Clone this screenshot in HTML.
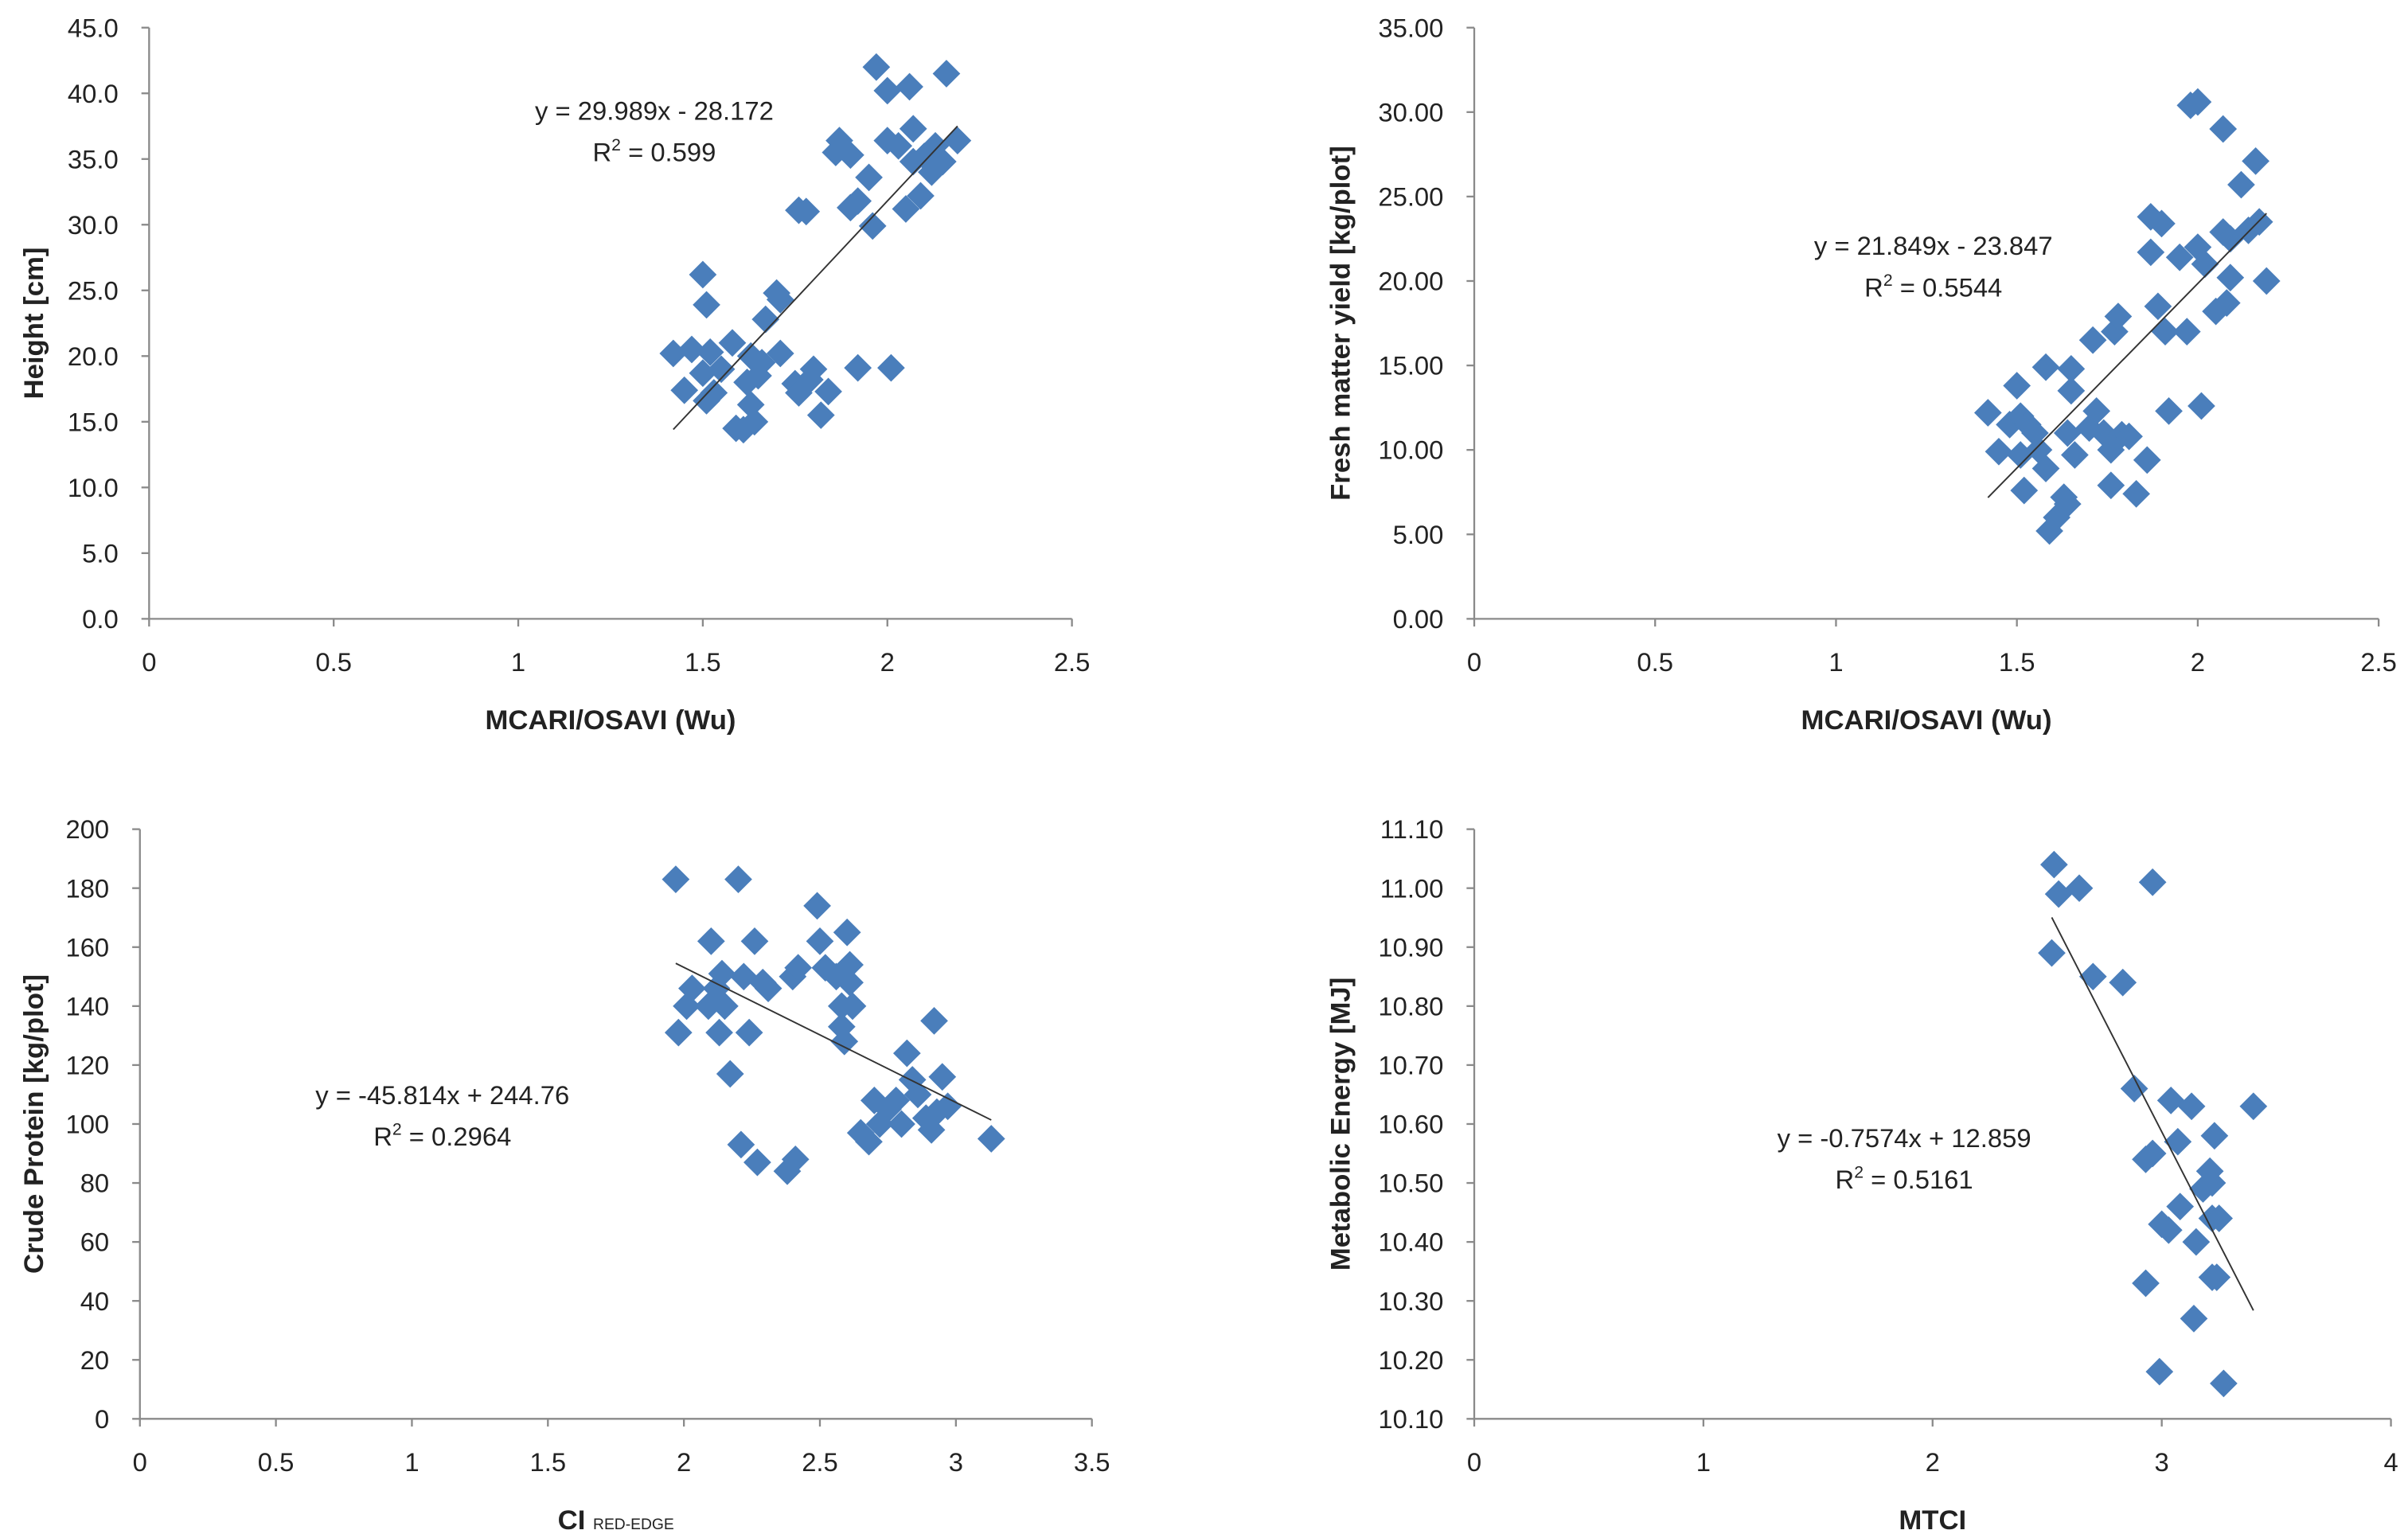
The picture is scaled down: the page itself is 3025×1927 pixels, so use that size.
<!DOCTYPE html>
<html><head><meta charset="utf-8"><style>
html,body{margin:0;padding:0;background:#fff;}
svg{display:block;}
text{font-family:"Liberation Sans",sans-serif;fill:#222;}
</style></head><body>
<svg id="c" width="3025" height="1927" viewBox="0 0 1568 999" xmlns="http://www.w3.org/2000/svg"></svg>
<script>
// Panel 1: Height vs MCARI/OSAVI
const p1X = [1.42,1.45,1.47,1.50,1.51,1.50,1.52,1.53,1.51,1.55,1.58,1.59,1.61,1.62,1.63,1.63,1.64,1.65,1.66,1.67,1.70,1.71,1.71,1.75,1.76,1.76,1.78,1.79,1.80,1.82,1.84,1.86,1.87,1.90,1.90,1.92,1.92,1.95,1.96,1.97,2.00,2.00,2.01,2.03,2.05,2.06,2.07,2.07,2.09,2.10,2.12,2.13,2.15,2.16,2.19];
const p1Y = [20.2,17.4,20.5,26.2,23.9,18.7,20.3,17.2,16.6,19.0,21.0,14.5,14.4,18.0,20.0,16.3,15.0,18.5,19.5,22.8,24.8,24.3,20.2,17.9,17.2,31.1,31.0,18.2,19.0,15.5,17.3,35.5,36.4,35.3,31.3,19.1,31.8,33.6,29.9,42.0,36.4,40.2,19.1,36.0,31.2,40.5,37.3,34.8,32.2,35.2,34.0,36.0,34.8,41.5,36.4];
const p1Ticks = ["0.0","5.0","10.0","15.0","20.0","25.0","30.0","35.0","40.0","45.0"];
const p1XTicks = ["0","0.5","1","1.5","2","2.5"];
// Panel 2: Fresh matter yield vs MCARI/OSAVI
const p2X = [1.42,1.45,1.48,1.50,1.51,1.51,1.52,1.53,1.55,1.56,1.58,1.58,1.59,1.61,1.63,1.64,1.64,1.65,1.65,1.66,1.70,1.71,1.72,1.74,1.76,1.76,1.77,1.78,1.79,1.81,1.83,1.86,1.87,1.87,1.89,1.90,1.91,1.92,1.95,1.97,1.98,2.00,2.00,2.01,2.02,2.05,2.07,2.07,2.08,2.09,2.09,2.12,2.14,2.16,2.17,2.19];
const p2Y = [12.2,9.9,11.5,13.8,12.0,9.7,7.6,11.5,11.0,10.0,14.9,8.9,5.2,6.0,7.2,6.8,11.0,14.8,13.5,9.7,11.3,16.5,12.3,11.0,10.0,7.9,17.0,17.9,10.9,10.8,7.4,9.4,21.7,23.8,18.5,23.4,17.0,12.3,21.4,17.0,30.4,30.6,22.0,12.6,21.0,18.2,22.9,29.0,18.7,20.2,22.5,25.7,23.0,27.1,23.5,20.0];
const p2Ticks = ["0.00","5.00","10.00","15.00","20.00","25.00","30.00","35.00"];
const p2XTicks = ["0","0.5","1","1.5","2","2.5"];
// Panel 3: Crude protein vs CI red-edge
const p3X = [1.97,1.98,2.01,2.03,2.09,2.10,2.12,2.13,2.14,2.15,2.17,2.20,2.21,2.22,2.24,2.26,2.27,2.29,2.31,2.38,2.40,2.41,2.42,2.49,2.50,2.52,2.56,2.58,2.58,2.59,2.60,2.61,2.61,2.62,2.65,2.68,2.70,2.72,2.75,2.78,2.80,2.82,2.84,2.86,2.89,2.91,2.92,2.93,2.95,2.97,3.13];
const p3Y = [183,131,140,146,140,162,146,131,151,140,117,183,93,150,131,162,87,148,146,84,150,88,153,174,162,153,150,140,133,128,165,154,148,140,97,94,108,100,105,108,100,124,115,110,102,98,135,104,116,106,95];
const p3Ticks = ["0","20","40","60","80","100","120","140","160","180","200"];
const p3XTicks = ["0","0.5","1","1.5","2","2.5","3","3.5"];
// Panel 4: Metabolic energy vs MTCI
const p4X = [2.53,2.55,2.52,2.64,2.70,2.83,2.96,2.88,2.93,2.96,2.93,2.99,3.00,3.03,3.04,3.07,3.08,3.13,3.15,3.14,3.18,3.21,3.22,3.22,3.23,3.25,3.22,3.24,3.27,3.40];
const p4Y = [11.04,10.99,10.89,11.00,10.85,10.84,11.01,10.66,10.54,10.55,10.33,10.18,10.43,10.42,10.64,10.57,10.46,10.63,10.40,10.27,10.49,10.52,10.50,10.44,10.58,10.44,10.34,10.34,10.16,10.63];
const p4Ticks = ["10.10","10.20","10.30","10.40","10.50","10.60","10.70","10.80","10.90","11.00","11.10"];
const p4XTicks = ["0","1","2","3","4"];
const slopes = [29.989, 21.849, -45.814, -0.7574];
const intercepts = [-28.172, -23.847, 244.76, 12.859];

const NS="http://www.w3.org/2000/svg";
const svg=document.getElementById('c');
function mk(tag,attrs,parent){const e=document.createElementNS(NS,tag);for(const k in attrs)e.setAttribute(k,attrs[k]);(parent||svg).appendChild(e);return e;}

const panels=[
 {name:'height',xs:p1X,ys:p1Y,yt:p1Ticks,xt:p1XTicks,px0:97,px1:698,py0:403,py1:18,eq:["y = 29.989x - 28.172","0.599"],eqx:426,eqy:72,xtitle:"MCARI/OSAVI (Wu)",ytitle:"Height [cm]",ytx:22},
 {name:'fresh-matter',xs:p2X,ys:p2Y,yt:p2Ticks,xt:p2XTicks,px0:960,px1:1549,py0:403,py1:18,eq:["y = 21.849x - 23.847","0.5544"],eqx:1259,eqy:160,xtitle:"MCARI/OSAVI (Wu)",ytitle:"Fresh matter yield [kg/plot]",ytx:873},
 {name:'crude-protein',xs:p3X,ys:p3Y,yt:p3Ticks,xt:p3XTicks,px0:91,px1:711,py0:924,py1:540,eq:["y = -45.814x + 244.76","0.2964"],eqx:288,eqy:713,xtitle:"CI",ytitle:"Crude Protein [kg/plot]",ytx:22},
 {name:'metabolic-energy',xs:p4X,ys:p4Y,yt:p4Ticks,xt:p4XTicks,px0:960,px1:1557,py0:924,py1:540,eq:["y = -0.7574x + 12.859","0.5161"],eqx:1240,eqy:741,xtitle:"MTCI",ytitle:"Metabolic Energy [MJ]",ytx:873}
];
panels.forEach((p,i)=>{
 const g=mk('g',{});
 
 
 const xmin=+p.xt[0], xmax=+p.xt[p.xt.length-1];
 const ymin=+p.yt[0], ymax=+p.yt[p.yt.length-1];
 const X=v=>p.px0+(v-xmin)/(xmax-xmin)*(p.px1-p.px0);
 const Y=v=>p.py0-(v-ymin)/(ymax-ymin)*(p.py0-p.py1);
 // axes
 const ya=mk('line',{x1:p.px0,y1:p.py0,x2:p.px0,y2:p.py1,stroke:'#8a8a8a','stroke-width':1.2},g);
 
 
 const xa=mk('line',{x1:p.px0,y1:p.py0,x2:p.px1,y2:p.py0,stroke:'#8a8a8a','stroke-width':1.2},g);
 
 
 p.yt.forEach(t=>{
  const y=Y(+t);
  mk('line',{x1:p.px0-5,y1:y,x2:p.px0,y2:y,stroke:'#8a8a8a','stroke-width':1.2},g);
  const tx=mk('text',{x:p.px0-20,y:y+6,'text-anchor':'end','font-size':17},g);
  tx.textContent=t;
  
  
 });
 p.xt.forEach(t=>{
  const x=X(+t);
  mk('line',{x1:x,y1:p.py0,x2:x,y2:p.py0+5,stroke:'#8a8a8a','stroke-width':1.2},g);
  const tx=mk('text',{x:x,y:p.py0+34,'text-anchor':'middle','font-size':17},g);
  tx.textContent=t;
  
  
 });
 // points
 p.xs.forEach((xv,j)=>{
  const cx=X(xv),cy=Y(p.ys[j]),r=9;
  const d=mk('polygon',{points:`${cx},${cy-r} ${cx+r},${cy} ${cx},${cy+r} ${cx-r},${cy}`,fill:'#4a7ebb'},g);
  
  
 });
 // trendline
 const lo=Math.min(...p.xs), hi=Math.max(...p.xs);
 const tl=mk('line',{x1:X(lo),y1:Y(slopes[i]*lo+intercepts[i]),x2:X(hi),y2:Y(slopes[i]*hi+intercepts[i]),stroke:'#333','stroke-width':1},g);
 
 
 const e1=mk('text',{x:p.eqx,y:p.eqy+6,'text-anchor':'middle','font-size':17},g);
 e1.textContent=p.eq[0];
 
 
 const e2=mk('text',{x:p.eqx,y:p.eqy+33,'text-anchor':'middle','font-size':17},g);
 e2.innerHTML='R<tspan dy="-7" font-size="11">2</tspan><tspan dy="7"> = '+p.eq[1]+'</tspan>';
 
 
 // titles
 const xtt=mk('text',{x:(p.px0+p.px1)/2,y:p.py0+72,'text-anchor':'middle','font-size':18,'font-weight':'bold'},g);
 if(p.xtitle==='CI'){xtt.innerHTML='CI <tspan font-size="10" font-weight="normal">RED-EDGE</tspan>';}
 else xtt.textContent=p.xtitle;
 
 
 const cy=(p.py0+p.py1)/2;
 const ytt=mk('text',{x:p.ytx,y:cy,'text-anchor':'middle','font-size':18,'font-weight':'bold',transform:`rotate(-90 ${p.ytx} ${cy})`,dy:6},g);
 ytt.textContent=p.ytitle;
 
 
});
</script>
</body></html>
